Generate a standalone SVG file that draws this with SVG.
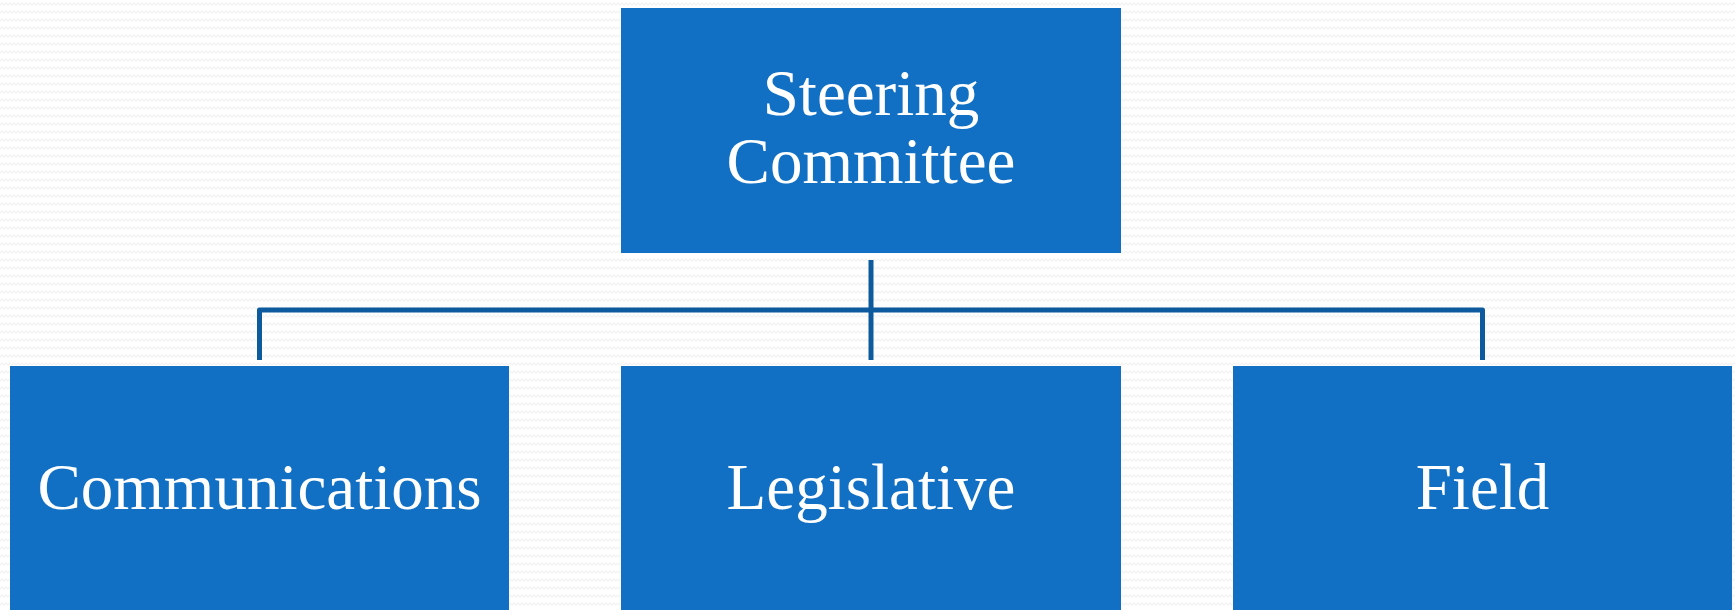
<svg xmlns="http://www.w3.org/2000/svg" width="1735" height="610" viewBox="0 0 1735 610">
<defs>
<pattern id="bg" width="8" height="8" patternUnits="userSpaceOnUse">
<rect width="8" height="8" fill="#ffffff"/>
<polyline points="0,5 2,3 4,5 6,3 8,5" fill="none" stroke="#f2f2f2" stroke-width="1.2"/>
</pattern>
</defs>
<style>
.box{fill:#1170c4;}
.lbl{fill:#ffffff;font-family:"Liberation Serif","DejaVu Serif",serif;font-size:65px;text-anchor:middle;}
.conn{fill:none;stroke:#0d5a9f;stroke-width:5;stroke-linejoin:round;}
</style>
<rect width="1735" height="610" fill="url(#bg)"/>
<g id="connectors">
<path class="conn" d="M871,260 V360"/>
<path class="conn" d="M259.5,360 V310 H1482.5 V360"/>
</g>
<g id="steering">
<rect class="box" x="621" y="8" width="500" height="245"/>
<text class="lbl" x="871" y="115">Steering</text>
<text class="lbl" x="871" y="183">Committee</text>
</g>
<g id="communications">
<rect class="box" x="10" y="366" width="499" height="250"/>
<text class="lbl" x="259.5" y="509">Communications</text>
</g>
<g id="legislative">
<rect class="box" x="621" y="366" width="500" height="250"/>
<text class="lbl" x="871" y="509">Legislative</text>
</g>
<g id="field">
<rect class="box" x="1233" y="366" width="499" height="250"/>
<text class="lbl" x="1482.5" y="509">Field</text>
</g>
</svg>
